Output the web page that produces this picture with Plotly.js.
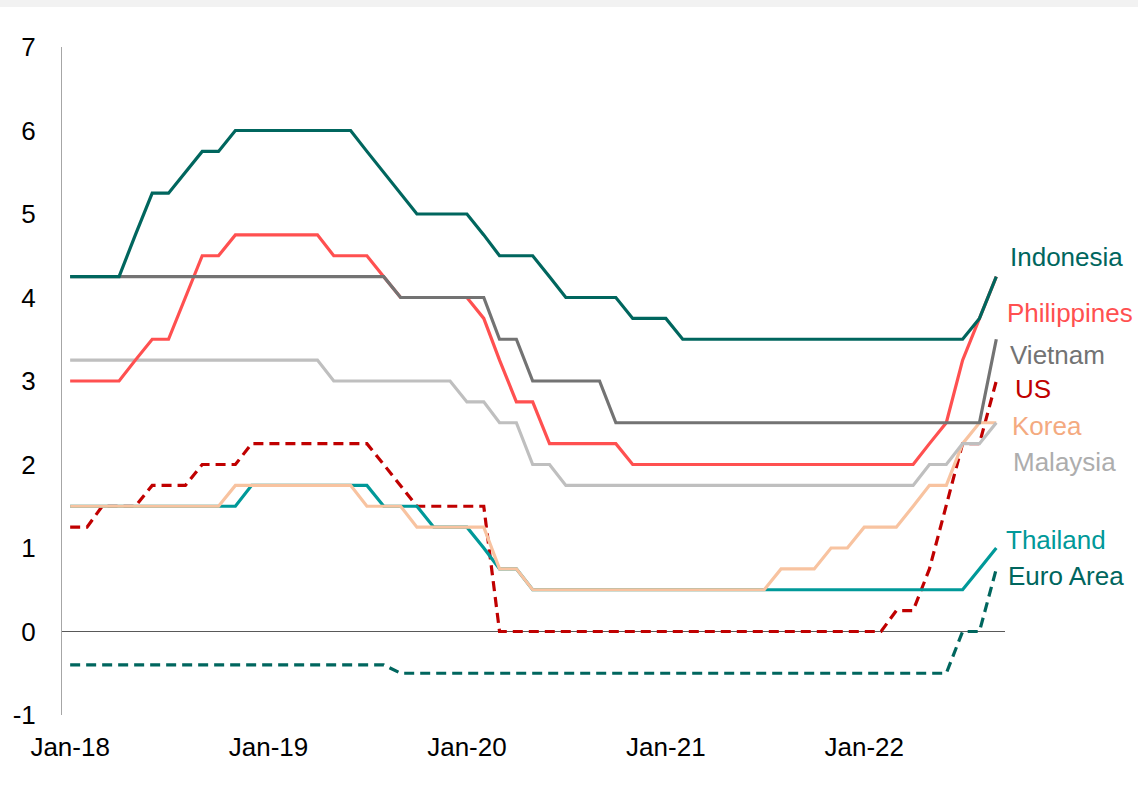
<!DOCTYPE html>
<html>
<head>
<meta charset="utf-8">
<script src="https://cdn.plot.ly/plotly-3.0.1.min.js"></script>
<style>
  html, body { margin: 0; padding: 0; background: #ffffff; }
  #chart { width: 1138px; height: 793px; }
</style>
</head>
<body>
<div id="chart"></div>
<script>
// Monthly policy rates, Jan-2018 .. Sep-2022 (57 months)
const startYear = 2018, startMonth = 1, monthCount = 57;
const tickVals = ['2018-01-01', '2019-01-01', '2020-01-01', '2021-01-01', '2022-01-01'];
const tickText = ['Jan-18', 'Jan-19', 'Jan-20', 'Jan-21', 'Jan-22'];
const yTickVals = [-1, 0, 1, 2, 3, 4, 5, 6, 7];
const yTickText = ['-1', '0', '1', '2', '3', '4', '5', '6', '7'];

const indonesia = [4.25,4.25,4.25,4.25,4.75,5.25,5.25,5.5,5.75,5.75,6,
  6,6,6,6,6,6,6,
  5.75,5.5,5.25,5,5,5,5,
  4.75,4.5,4.5,4.5,
  4.25,4,4,4,4,
  3.75,3.75,3.75,
  3.5,3.5,3.5,3.5,3.5,3.5,3.5,3.5,3.5,3.5,3.5,3.5,3.5,3.5,3.5,3.5,3.5,3.5,
  3.75,4.25];
const philippines = [3,3,3,3,3.25,3.5,3.5,4,4.5,4.5,4.75,
  4.75,4.75,4.75,4.75,4.75,
  4.5,4.5,4.5,
  4.25,4,
  4,4,4,4,
  3.75,3.25,2.75,2.75,
  2.25,2.25,2.25,2.25,2.25,
  2,2,2,2,2,2,2,2,2,2,2,2,2,2,2,2,2,2,
  2.25,2.5,3.25,3.75,4.25];
const vietnam = [4.25,4.25,4.25,4.25,4.25,4.25,4.25,4.25,4.25,4.25,4.25,4.25,4.25,4.25,4.25,4.25,4.25,4.25,4.25,4.25,
  4,4,4,4,4,4,
  3.5,3.5,
  3,3,3,3,3,
  2.5,2.5,2.5,2.5,2.5,2.5,2.5,2.5,2.5,2.5,2.5,2.5,2.5,2.5,2.5,2.5,2.5,2.5,2.5,2.5,2.5,2.5,2.5,
  3.5];
const usa = [1.25,1.25,1.5,1.5,1.5,1.75,1.75,1.75,2,2,2,
  2.25,2.25,2.25,2.25,2.25,2.25,2.25,2.25,
  2,1.75,1.5,
  1.5,1.5,1.5,1.5,
  0,
  0,0,0,0,0,0,0,0,0,0,0,0,0,0,0,0,0,0,0,0,0,0,0,
  0.25,0.25,0.75,1.5,2.25,2.25,3];
const korea = [1.5,1.5,1.5,1.5,1.5,1.5,1.5,1.5,1.5,1.5,
  1.75,1.75,1.75,1.75,1.75,1.75,1.75,1.75,
  1.5,1.5,1.5,
  1.25,1.25,1.25,1.25,1.25,
  0.75,0.75,
  0.5,0.5,0.5,0.5,0.5,0.5,0.5,0.5,0.5,0.5,0.5,0.5,0.5,0.5,0.5,
  0.75,0.75,0.75,
  1,1,
  1.25,1.25,1.25,
  1.5,1.75,1.75,2.25,2.5,2.5];
const malaysia = [3.25,3.25,3.25,3.25,3.25,3.25,3.25,3.25,3.25,3.25,3.25,3.25,3.25,3.25,3.25,3.25,
  3,3,3,3,3,3,3,3,
  2.75,2.75,2.5,2.5,2,2,
  1.75,1.75,1.75,1.75,1.75,1.75,1.75,1.75,1.75,1.75,1.75,1.75,1.75,1.75,1.75,1.75,1.75,1.75,1.75,1.75,1.75,1.75,
  2,2,2.25,2.25,2.5];
const thailand = [1.5,1.5,1.5,1.5,1.5,1.5,1.5,1.5,1.5,1.5,1.5,
  1.75,1.75,1.75,1.75,1.75,1.75,1.75,1.75,
  1.5,1.5,1.5,
  1.25,1.25,1.25,
  1,0.75,0.75,
  0.5,
  0.5,0.5,0.5,0.5,0.5,0.5,0.5,0.5,0.5,0.5,0.5,0.5,0.5,0.5,0.5,0.5,0.5,0.5,0.5,0.5,0.5,0.5,0.5,0.5,0.5,0.5,
  0.75,1];
const euroArea = [-0.4,-0.4,-0.4,-0.4,-0.4,-0.4,-0.4,-0.4,-0.4,-0.4,-0.4,-0.4,-0.4,-0.4,-0.4,-0.4,-0.4,-0.4,-0.4,-0.4,
  -0.5,
  -0.5,-0.5,-0.5,-0.5,-0.5,-0.5,-0.5,-0.5,-0.5,-0.5,-0.5,-0.5,-0.5,-0.5,-0.5,-0.5,-0.5,-0.5,-0.5,-0.5,-0.5,-0.5,-0.5,-0.5,-0.5,-0.5,-0.5,-0.5,-0.5,-0.5,-0.5,-0.5,-0.5,
  0,0,0.75];

const seriesNames = ['Euro Area', 'US', 'Thailand', 'Korea', 'Malaysia', 'Philippines', 'Vietnam', 'Indonesia'];

// month dates
const months = [];
for (let i = 0; i < monthCount; i++) {
  const y = startYear + Math.floor((startMonth - 1 + i) / 12);
  const m = ((startMonth - 1 + i) % 12) + 1;
  months.push(y + '-' + String(m).padStart(2, '0') + '-01');
}

const FONT = 'Liberation Sans, Arial, sans-serif';
const styles = {
  'Indonesia':   {color: '#00665E', dash: 'solid', text: '#00665E'},
  'Philippines': {color: '#FF5050', dash: 'solid', text: '#FF5050'},
  'Vietnam':     {color: '#737373', dash: 'solid', text: '#737373'},
  'US':          {color: '#C00000', dash: '10px,6px', text: '#C00000'},
  'Korea':       {color: '#F8C3A0', dash: 'solid', text: '#F4AA80'},
  'Malaysia':    {color: '#BFBFBF', dash: 'solid', text: '#ADADAD'},
  'Thailand':    {color: '#009999', dash: 'solid', text: '#009999'},
  'Euro Area':   {color: '#00665E', dash: '10px,6px', text: '#00665E'}
};
const dataMap = {
  'Indonesia': indonesia, 'Philippines': philippines, 'Vietnam': vietnam, 'US': usa,
  'Korea': korea, 'Malaysia': malaysia, 'Thailand': thailand, 'Euro Area': euroArea
};

const traces = seriesNames.map(n => ({
  type: 'scatter', mode: 'lines', name: n,
  x: months, y: dataMap[n],
  line: {color: styles[n].color, width: 3.2, dash: styles[n].dash},
  hoverinfo: 'x+y+name'
}));

// label positions (pixel x, data y)
const W = 1138, H = 793, ML = 62, MR = 133, MT = 47, MB = 78;
const PW = W - ML - MR;
const labelPos = {
  'Indonesia':   [1008, 4.48],
  'Philippines': [1005, 3.82],
  'Vietnam':     [1008, 3.31],
  'US':          [1013, 2.91],
  'Korea':       [1010, 2.46],
  'Malaysia':    [1011, 2.03],
  'Thailand':    [1004, 1.10],
  'Euro Area':   [1006, 0.66]
};
const annotations = seriesNames.map(n => ({
  xref: 'paper', yref: 'y',
  x: (labelPos[n][0] - ML) / PW, y: labelPos[n][1],
  xanchor: 'left', yanchor: 'middle',
  text: n, showarrow: false,
  font: {family: FONT, size: 26, color: styles[n].text}
}));

const layout = {
  width: W, height: H,
  margin: {l: ML, r: MR, t: MT, b: MB, pad: 0},
  paper_bgcolor: '#ffffff', plot_bgcolor: '#ffffff',
  showlegend: false,
  font: {family: FONT, size: 26, color: '#000000'},
  xaxis: {
    type: 'date',
    range: ['2017-12-17', '2022-09-17'],
    tickmode: 'array', tickvals: tickVals, ticktext: tickText,
    showgrid: false, zeroline: false, showline: false,
    ticks: 'outside', ticklen: 9, tickcolor: 'rgba(0,0,0,0)',
    tickfont: {family: FONT, size: 26, color: '#000000'}
  },
  yaxis: {
    range: [-1, 7],
    tickmode: 'array', tickvals: yTickVals, ticktext: yTickText,
    showgrid: false,
    showline: true, linecolor: '#A6A6A6', linewidth: 1,
    zeroline: true, zerolinecolor: '#595959', zerolinewidth: 1,
    ticks: 'outside', ticklen: 20, tickcolor: 'rgba(0,0,0,0)',
    tickfont: {family: FONT, size: 26, color: '#000000'}
  },
  shapes: [{
    type: 'rect', xref: 'paper', yref: 'paper',
    x0: -0.2, x1: 1.3,
    y0: 1 + (MT - 7) / (H - MT - MB), y1: 1.2,
    fillcolor: '#F2F2F2', line: {width: 0}, layer: 'below'
  }],
  annotations: annotations
};

Plotly.newPlot('chart', traces, layout, {displayModeBar: false, responsive: false});
</script>
</body>
</html>
